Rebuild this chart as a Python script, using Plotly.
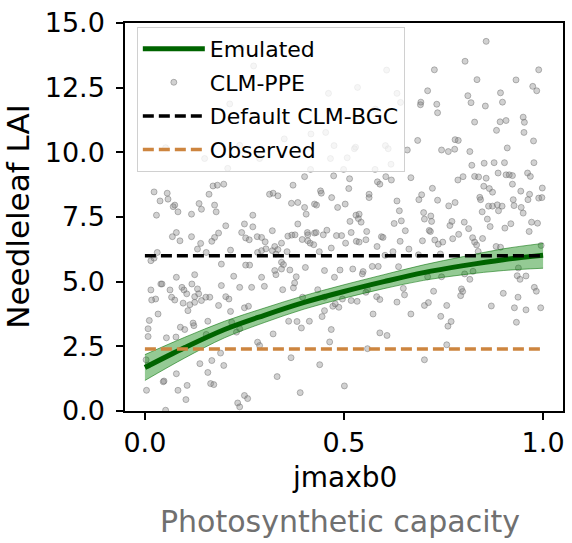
import plotly.graph_objects as go

# ---------------- data ----------------
emu_x = [0.0, 0.1, 0.2, 0.3, 0.4, 0.5, 0.6, 0.7, 0.8, 0.9, 1.0]
emu_y = [1.68, 2.45, 3.15, 3.70, 4.20, 4.62, 5.00, 5.35, 5.62, 5.85, 6.02]
emu_lo = [1.18, 2.05, 2.83, 3.42, 3.94, 4.36, 4.73, 5.05, 5.27, 5.43, 5.52]
emu_hi = [2.18, 2.85, 3.47, 3.98, 4.46, 4.88, 5.27, 5.65, 5.97, 6.27, 6.48]

default_x = [0.0, 1.0]
default_y = [6.0, 6.0]
observed_x = [0.0, 1.0]
observed_y = [2.4, 2.4]

ppe_x = [
    0.857, 0.804, 0.727, 0.989, 0.834, 0.932, 0.974, 0.984, 0.710, 0.811, 0.893, 0.819, 0.898, 0.855, 0.693,
    0.692, 0.733, 0.735, 0.950, 0.953, 0.828, 0.892, 0.907, 0.883, 0.952, 0.779, 0.787, 0.976, 0.685, 0.745,
    0.762, 0.778, 0.816, 0.910, 0.821, 0.852, 0.877, 0.903, 0.977, 0.887, 0.907, 0.915, 0.923, 0.961, 0.968,
    0.786, 0.799, 0.828, 0.838, 0.857, 0.923, 0.851, 0.865, 0.873, 0.998, 0.722, 0.695, 0.688, 0.735, 0.841,
    0.843, 0.925, 0.944, 0.966, 0.962, 0.989, 0.997, 0.763, 0.779, 0.863, 0.873, 0.885, 0.897, 0.927, 0.945,
    0.847, 0.888, 0.950, 0.700, 0.718,
    0.702, 0.720, 0.771, 0.766, 0.802, 0.860, 0.867, 0.813, 0.919, 0.904, 0.971, 0.986, 0.965, 0.714, 0.717,
    0.788, 0.773, 0.697, 0.728, 0.737, 0.748, 0.823, 0.828, 0.833, 0.848, 0.882, 0.893, 0.837, 0.742, 0.687,
    0.938, 0.824, 0.803, 0.816, 0.935, 0.942, 0.957, 0.745, 0.710, 0.725, 0.795, 0.798, 0.793, 0.900, 0.978,
    0.983, 0.937, 0.702, 0.712, 0.758, 0.870, 0.928, 0.957, 0.994, 0.743, 0.769, 0.761, 0.933, 0.758, 0.702,
    0.995,
    0.384, 0.515, 0.536, 0.543, 0.626, 0.644, 0.654, 0.320, 0.359, 0.369, 0.377, 0.408, 0.409, 0.426, 0.430,
    0.448, 0.457, 0.481, 0.494, 0.518, 0.557, 0.594, 0.598, 0.395, 0.409, 0.415, 0.424, 0.504, 0.531, 0.538,
    0.555, 0.641, 0.343, 0.326, 0.334, 0.329, 0.320, 0.357, 0.438, 0.468, 0.583, 0.623, 0.663, 0.603, 0.343,
    0.348, 0.343, 0.326, 0.329, 0.364, 0.403, 0.451, 0.490, 0.522, 0.548, 0.546, 0.571, 0.586, 0.637, 0.380,
    0.476, 0.376, 0.373, 0.346, 0.434, 0.559, 0.555, 0.582, 0.590, 0.649, 0.652, 0.396, 0.451, 0.496, 0.518,
    0.533, 0.633, 0.472, 0.487, 0.478, 0.451, 0.445, 0.573, 0.668, 0.361, 0.382, 0.413, 0.393, 0.468, 0.322,
    0.590, 0.608, 0.464, 0.559, 0.367, 0.439, 0.332, 0.501, 0.390,
    0.079, 0.069, 0.088, 0.117, 0.140, 0.132, 0.168, 0.175, 0.185, 0.203, 0.243, 0.250, 0.271, 0.253, 0.262,
    0.282, 0.293, 0.302, 0.154, 0.031, 0.015, 0.023, 0.192, 0.215, 0.253, 0.263, 0.283, 0.293, 0.304, 0.079,
    0.125, 0.040, 0.043, 0.015, 0.017, 0.027, 0.063, 0.067, 0.075, 0.093, 0.098, 0.105, 0.118, 0.132, 0.125,
    0.135, 0.153, 0.163, 0.192, 0.223, 0.238, 0.268, 0.293, 0.300, 0.203, 0.211, 0.096, 0.113, 0.125, 0.142,
    0.250, 0.260, 0.185, 0.215, 0.033, 0.108, 0.011, 0.008, 0.008, 0.089, 0.100, 0.121, 0.123, 0.158, 0.154,
    0.054, 0.078, 0.218, 0.238, 0.230, 0.283, 0.288, 0.190, 0.168, 0.198, 0.138, 0.079, 0.003, 0.008, 0.048,
    0.046, 0.158, 0.165, 0.173, 0.083, 0.106, 0.004, 0.103, 0.250, 0.258, 0.233, 0.238, 0.052,
    0.171, 0.182, 0.198, 0.023, 0.056, 0.038, 0.058, 0.075, 0.071, 0.136, 0.142, 0.161, 0.175, 0.179, 0.029,
    0.083, 0.117, 0.271, 0.313,
    0.401, 0.474, 0.514, 0.584, 0.590, 0.605, 0.619, 0.668, 0.372, 0.441, 0.443, 0.512, 0.563, 0.563, 0.469,
    0.633, 0.368, 0.384, 0.426, 0.431, 0.401, 0.322, 0.334, 0.484, 0.503, 0.530, 0.538, 0.639, 0.405,
    0.242, 0.273, 0.607, 0.534, 0.461, 0.633, 0.642, 0.213, 0.463, 0.579, 0.417, 0.454, 0.350, 0.475, 0.529,
    0.604, 0.526, 0.611, 0.508, 0.499, 0.578, 0.618, 0.416, 0.466, 0.659, 0.150, 0.208, 0.238, 0.288, 0.052,
]
ppe_y = [
    14.29, 13.52, 13.19, 13.19, 12.81, 12.80, 12.55, 12.38, 12.38, 12.19, 12.30, 11.92, 11.94, 11.79, 11.94,
    11.84, 11.86, 11.53, 11.36, 11.16, 11.17, 11.18, 11.23, 10.85, 10.77, 10.49, 10.46, 10.44, 10.46, 10.09,
    10.03, 10.12, 10.03, 10.17, 9.50, 9.58, 9.60, 9.60, 9.60, 9.20, 9.13, 9.13, 9.10, 9.20, 9.07,
    8.93, 9.06, 9.07, 9.05, 9.00, 8.77, 8.69, 8.60, 8.46, 8.62, 8.61, 8.36, 8.17, 8.15, 8.26,
    8.17, 8.17, 8.50, 8.38, 8.17, 8.23, 8.25, 7.93, 8.06, 7.92, 7.92, 7.97, 7.92, 7.94, 7.87,
    7.70, 7.74, 7.65, 7.67, 7.54,
    7.42, 7.33, 7.33, 7.17, 7.30, 7.42, 7.13, 7.05, 7.24, 7.07, 7.30, 7.26, 6.94, 6.98, 6.94,
    6.83, 6.66, 6.58, 6.61, 6.45, 6.53, 6.70, 6.53, 6.42, 6.67, 6.36, 6.33, 6.17, 6.07, 6.04,
    5.53, 5.40, 5.30, 5.09, 5.23, 5.09, 5.22, 5.19, 5.19, 4.63, 4.72, 4.62, 4.46, 4.55, 4.78,
    4.63, 4.40, 4.08, 4.19, 4.08, 4.06, 3.99, 3.91, 3.99, 3.66, 3.46, 3.28, 3.43, 2.56, 1.98,
    6.40,
    7.23, 7.33, 7.44, 7.30, 7.25, 7.35, 6.97, 6.97, 6.76, 6.80, 6.81, 6.90, 6.81, 6.88, 6.90,
    6.81, 6.99, 6.78, 6.78, 6.90, 6.94, 6.74, 6.71, 6.63, 6.58, 6.49, 6.43, 6.49, 6.56, 6.53,
    6.62, 6.56, 6.49, 6.36, 6.24, 6.07, 6.20, 6.16, 6.16, 6.30, 6.36, 6.16, 6.26, 6.02, 5.75,
    5.66, 5.49, 5.43, 5.27, 5.45, 5.55, 5.43, 5.45, 5.49, 5.39, 5.30, 5.59, 5.59, 5.58, 5.19,
    5.17, 4.95, 4.76, 4.69, 4.69, 4.69, 4.59, 4.42, 4.31, 4.74, 4.49, 4.40, 4.40, 4.33, 4.27,
    4.24, 4.21, 4.05, 4.01, 4.14, 3.88, 3.65, 3.75, 3.75, 3.47, 3.46, 3.47, 3.21, 3.15, 2.98,
    3.02, 2.92, 2.67, 2.41, 2.06, 1.79, 1.33, 0.97, 0.71,
    6.90, 6.74, 6.58, 6.74, 6.48, 6.26, 6.56, 6.71, 6.88, 7.16, 6.90, 7.23, 7.12, 6.69, 6.62,
    6.74, 6.71, 6.54, 6.13, 6.13, 5.81, 5.91, 5.68, 6.22, 5.64, 5.64, 6.13, 6.20, 6.27, 5.17,
    5.27, 4.91, 4.91, 4.68, 4.29, 4.33, 4.68, 4.40, 4.29, 4.78, 4.68, 4.53, 4.91, 4.72, 4.42,
    4.53, 4.40, 4.40, 4.85, 5.21, 4.78, 4.78, 5.17, 4.82, 4.42, 4.33, 4.17, 4.11, 4.20, 4.27,
    3.99, 4.05, 4.08, 3.85, 3.75, 3.88, 3.50, 3.18, 2.88, 3.24, 3.15, 3.40, 3.30, 3.47, 2.96,
    2.83, 2.86, 3.43, 3.18, 3.05, 2.66, 2.53, 2.24, 1.95, 1.76, 1.83, 1.44, 1.98, 1.77, 1.16,
    1.13, 1.49, 1.06, 1.02, 0.80, 0.99, 0.80, 0.44, 0.60, 0.48, 0.31, 0.16, 0.03,
    8.70, 8.73, 8.77, 8.47, 8.42, 8.12, 8.19, 7.96, 7.90, 8.02, 7.80, 8.38, 7.96, 7.70, 7.57,
    7.70, 7.61, 7.57, 8.38,
    9.06, 9.09, 8.98, 8.86, 8.77, 9.06, 8.93, 9.02, 8.73, 8.51, 8.42, 8.60, 8.38, 8.25, 8.25,
    8.12, 8.03, 8.06, 8.00, 7.96, 7.87, 8.42, 8.32, 7.87, 8.00, 7.57, 7.61, 7.74, 7.61,
    14.05, 13.34, 13.18, 12.51, 12.28, 12.28, 11.93, 11.87, 11.61, 11.67, 10.71, 10.77, 10.52, 10.26, 10.20,
    10.26, 10.14, 10.14, 9.79, 9.34, 9.34, 9.54, 9.34, 9.76, 10.09, 9.76, 9.38, 10.27, 9.76, 10.18,
]

x_ticks = [0.0, 0.5, 1.0]
y_ticks = [0.0, 2.5, 5.0, 7.5, 10.0, 12.5, 15.0]

FONT = "DejaVu Sans"

fig = go.Figure()

fig.add_trace(go.Scatter(
    x=ppe_x, y=ppe_y, mode="markers", name="CLM-PPE", legendrank=2, legendgroup="b",
    marker=dict(size=6, color="rgba(128,128,128,0.36)",
                line=dict(color="rgba(105,105,105,0.45)", width=1)),
))
fig.add_trace(go.Scatter(
    x=emu_x, y=emu_hi, mode="lines", line=dict(color="rgba(0,110,0,0.55)", width=1, shape="spline"),
    showlegend=False, hoverinfo="skip",
))
fig.add_trace(go.Scatter(
    x=emu_x, y=emu_lo, mode="lines", line=dict(color="rgba(0,110,0,0.55)", width=1, shape="spline"),
    fill="tonexty", fillcolor="rgba(0,128,0,0.42)", showlegend=False, hoverinfo="skip",
))
fig.add_trace(go.Scatter(
    x=emu_x, y=emu_y, mode="lines", name="Emulated", legendrank=1, legendgroup="a",
    line=dict(color="#006400", width=5, shape="spline"),
))
fig.add_trace(go.Scatter(
    x=default_x, y=default_y, mode="lines", name="Default CLM-BGC", legendrank=3, legendgroup="c",
    line=dict(color="black", width=3.5, dash="11px,5px"),
))
fig.add_trace(go.Scatter(
    x=observed_x, y=observed_y, mode="lines", name="Observed", legendrank=4, legendgroup="d",
    line=dict(color="#CD853F", width=3.5, dash="11px,5px"),
))

fig.update_layout(
    width=572, height=543,
    margin=dict(l=125, r=7, t=22, b=132),
    paper_bgcolor="white", plot_bgcolor="white",
    font=dict(family=FONT, color="black"),
    showlegend=True,
    legend=dict(
        x=0.027, y=0.99, xanchor="left", yanchor="top",
        bgcolor="rgba(255,255,255,0.8)", bordercolor="#d0d0d0", borderwidth=1,
        font=dict(size=22, family=FONT, color="black"),
        traceorder="grouped", tracegroupgap=2, itemwidth=62,
    ),
    xaxis=dict(
        range=[-0.05, 1.05], tickvals=x_ticks, ticktext=[f"{v:.1f}" for v in x_ticks],
        showgrid=False, zeroline=False, showline=True, linecolor="black", linewidth=1.5,
        mirror=True, ticks="outside", ticklen=7, tickwidth=1.5, tickcolor="black",
        tickfont=dict(size=27, family=FONT),
    ),
    yaxis=dict(
        range=[0, 15], tickvals=y_ticks, ticktext=[f"{v:.1f}" for v in y_ticks],
        showgrid=False, zeroline=False, showline=True, linecolor="black", linewidth=1.5,
        mirror=True, ticks="outside", ticklen=7, tickwidth=1.5, tickcolor="black",
        tickfont=dict(size=27, family=FONT), ticklabelstandoff=6,
    ),
    annotations=[
        dict(text="jmaxb0", xref="paper", yref="paper", x=0.5, y=-0.172,
             xanchor="center", yanchor="middle", showarrow=False,
             font=dict(size=28, family=FONT, color="black")),
        dict(text="Photosynthetic capacity", xref="paper", yref="paper", x=0.49, y=-0.285,
             xanchor="center", yanchor="middle", showarrow=False,
             font=dict(size=30, family=FONT, color="#707070")),
        dict(text="Needleleaf LAI", xref="paper", yref="paper", x=-0.245, y=0.5,
             xanchor="center", yanchor="middle", showarrow=False, textangle=-90,
             font=dict(size=31, family=FONT, color="black")),
    ],
)

fig.write_html(
    "out.html",
    config={"displayModeBar": False},
    post_script="document.body.style.margin='0';document.body.style.overflow='hidden';",
)
